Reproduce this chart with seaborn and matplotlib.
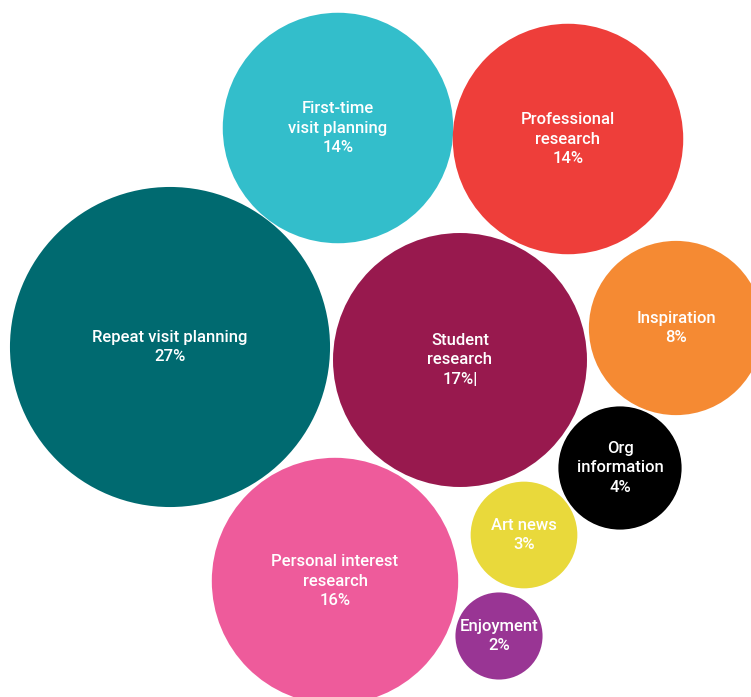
import matplotlib
matplotlib.use("Agg")
import matplotlib.pyplot as plt
import seaborn as sns
import pandas as pd
import numpy as np

# ---- data ----
categories = ["Repeat visit planning", "First-time\nvisit planning", "Professional\nresearch",
              "Student\nresearch", "Inspiration", "Org\ninformation", "Art news",
              "Personal interest\nresearch", "Enjoyment"]
values = [27, 14, 14, 17, 8, 4, 3, 16, 2]
value_labels = ["27%", "14%", "14%", "17%|", "8%", "4%", "3%", "16%", "2%"]

# ---- layout (bubble centres, pixel space) ----
center_x = [170, 338, 568, 460, 676, 620, 524, 335, 499]
center_y = [347, 128, 139, 360, 328, 468, 535, 581, 636]
colors = ["#006A70", "#33BECB", "#EE3E3A", "#98194E", "#F58A33", "#000000",
          "#E9D93B", "#EE5B9B", "#993594"]

W, H, DPI = 751, 697, 100
k = 30.8  # pixel radius per sqrt(percent)

df = pd.DataFrame({"cat": categories, "pct": values, "x": center_x, "y": center_y})
size_map = {c: (2 * k * np.sqrt(v) * 72 / DPI) ** 2 for c, v in zip(categories, values)}
palette = dict(zip(categories, colors))

sns.set_theme(style="white")
plt.rcParams["font.family"] = ["Roboto", "DejaVu Sans"]

fig = plt.figure(figsize=(W / DPI, H / DPI), dpi=DPI)
ax = fig.add_axes([0, 0, 1, 1])
sns.scatterplot(data=df, x="x", y="y", hue="cat", palette=palette, size="cat",
                sizes=size_map, linewidth=0, legend=False, ax=ax, alpha=1)
ax.set_xlim(0, W)
ax.set_ylim(H, 0)
ax.set_axis_off()

for cat, lab, x, y in zip(categories, value_labels, center_x, center_y):
    ax.text(x, y, f"{cat}\n{lab}", ha="center", va="center", color="white",
            fontsize=12, fontweight="medium", linespacing=1.4)

fig.savefig("out.png", dpi=DPI, facecolor="white")
